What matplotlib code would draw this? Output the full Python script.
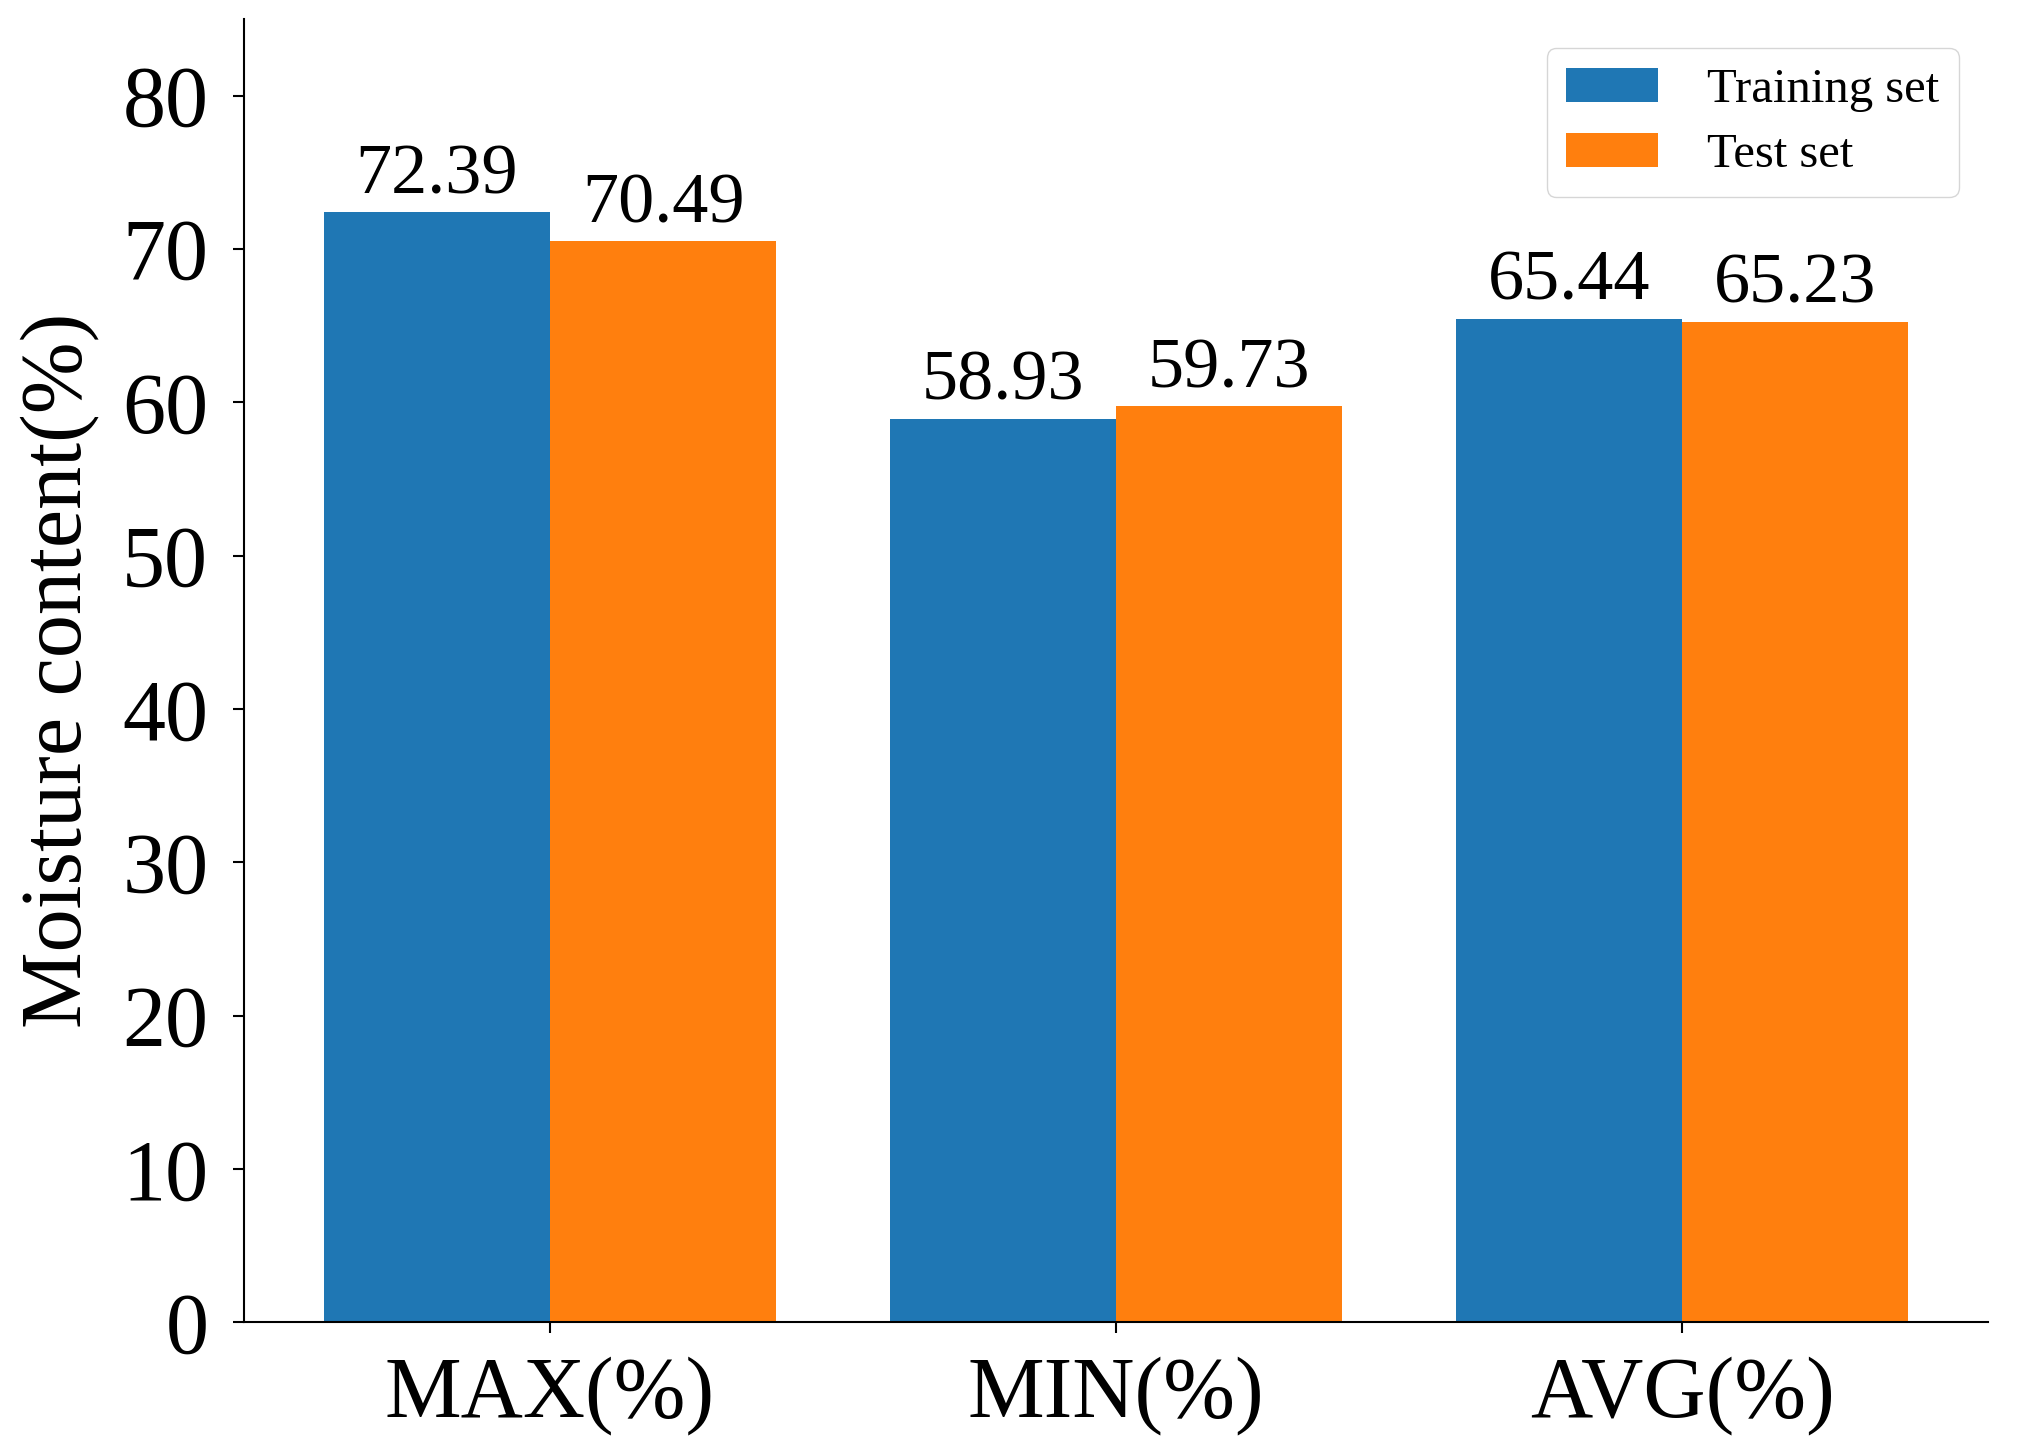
import numpy as np
import matplotlib
matplotlib.use("Agg")
import matplotlib.pyplot as plt

plt.rcParams['font.family'] = ['Liberation Serif', 'DejaVu Serif']

categories = ["MAX(%)", "MIN(%)", "AVG(%)"]
train = [72.39, 58.93, 65.44]
test = [70.49, 59.73, 65.23]

fig = plt.figure(figsize=(20.2, 14.53), dpi=100)
ax = fig.add_axes([0.121, 0.090, 0.863, 0.897])

x = np.arange(len(categories))
w = 0.4
b1 = ax.bar(x - w/2, train, w, color="#1f77b4", label="Training set")
b2 = ax.bar(x + w/2, test, w, color="#ff7f0e", label="Test set")
ax.bar_label(b1, labels=["%.2f" % v for v in train], padding=3, fontsize=52)
ax.bar_label(b2, labels=["%.2f" % v for v in test], padding=3, fontsize=52)

ax.set_ylim(0, 85)
ax.set_yticks(np.arange(0, 81, 10))
ax.set_xticks(x)
ax.set_xticklabels(categories)
ax.tick_params(axis='both', labelsize=62, width=1.5, length=8)
ax.tick_params(axis='y', pad=18)
ax.tick_params(axis='x', pad=16)
ax.set_ylabel("Moisture content(%)", fontsize=62, labelpad=16)
ax.spines['top'].set_visible(False)
ax.spines['right'].set_visible(False)
ax.spines['left'].set_linewidth(1.5)
ax.spines['bottom'].set_linewidth(1.5)

ax.legend(loc="upper right", fontsize=35, handlelength=1.9, borderpad=0.4,
          labelspacing=0.45, handletextpad=1.0, borderaxespad=0.6)

fig.savefig("out.png", dpi=100)
